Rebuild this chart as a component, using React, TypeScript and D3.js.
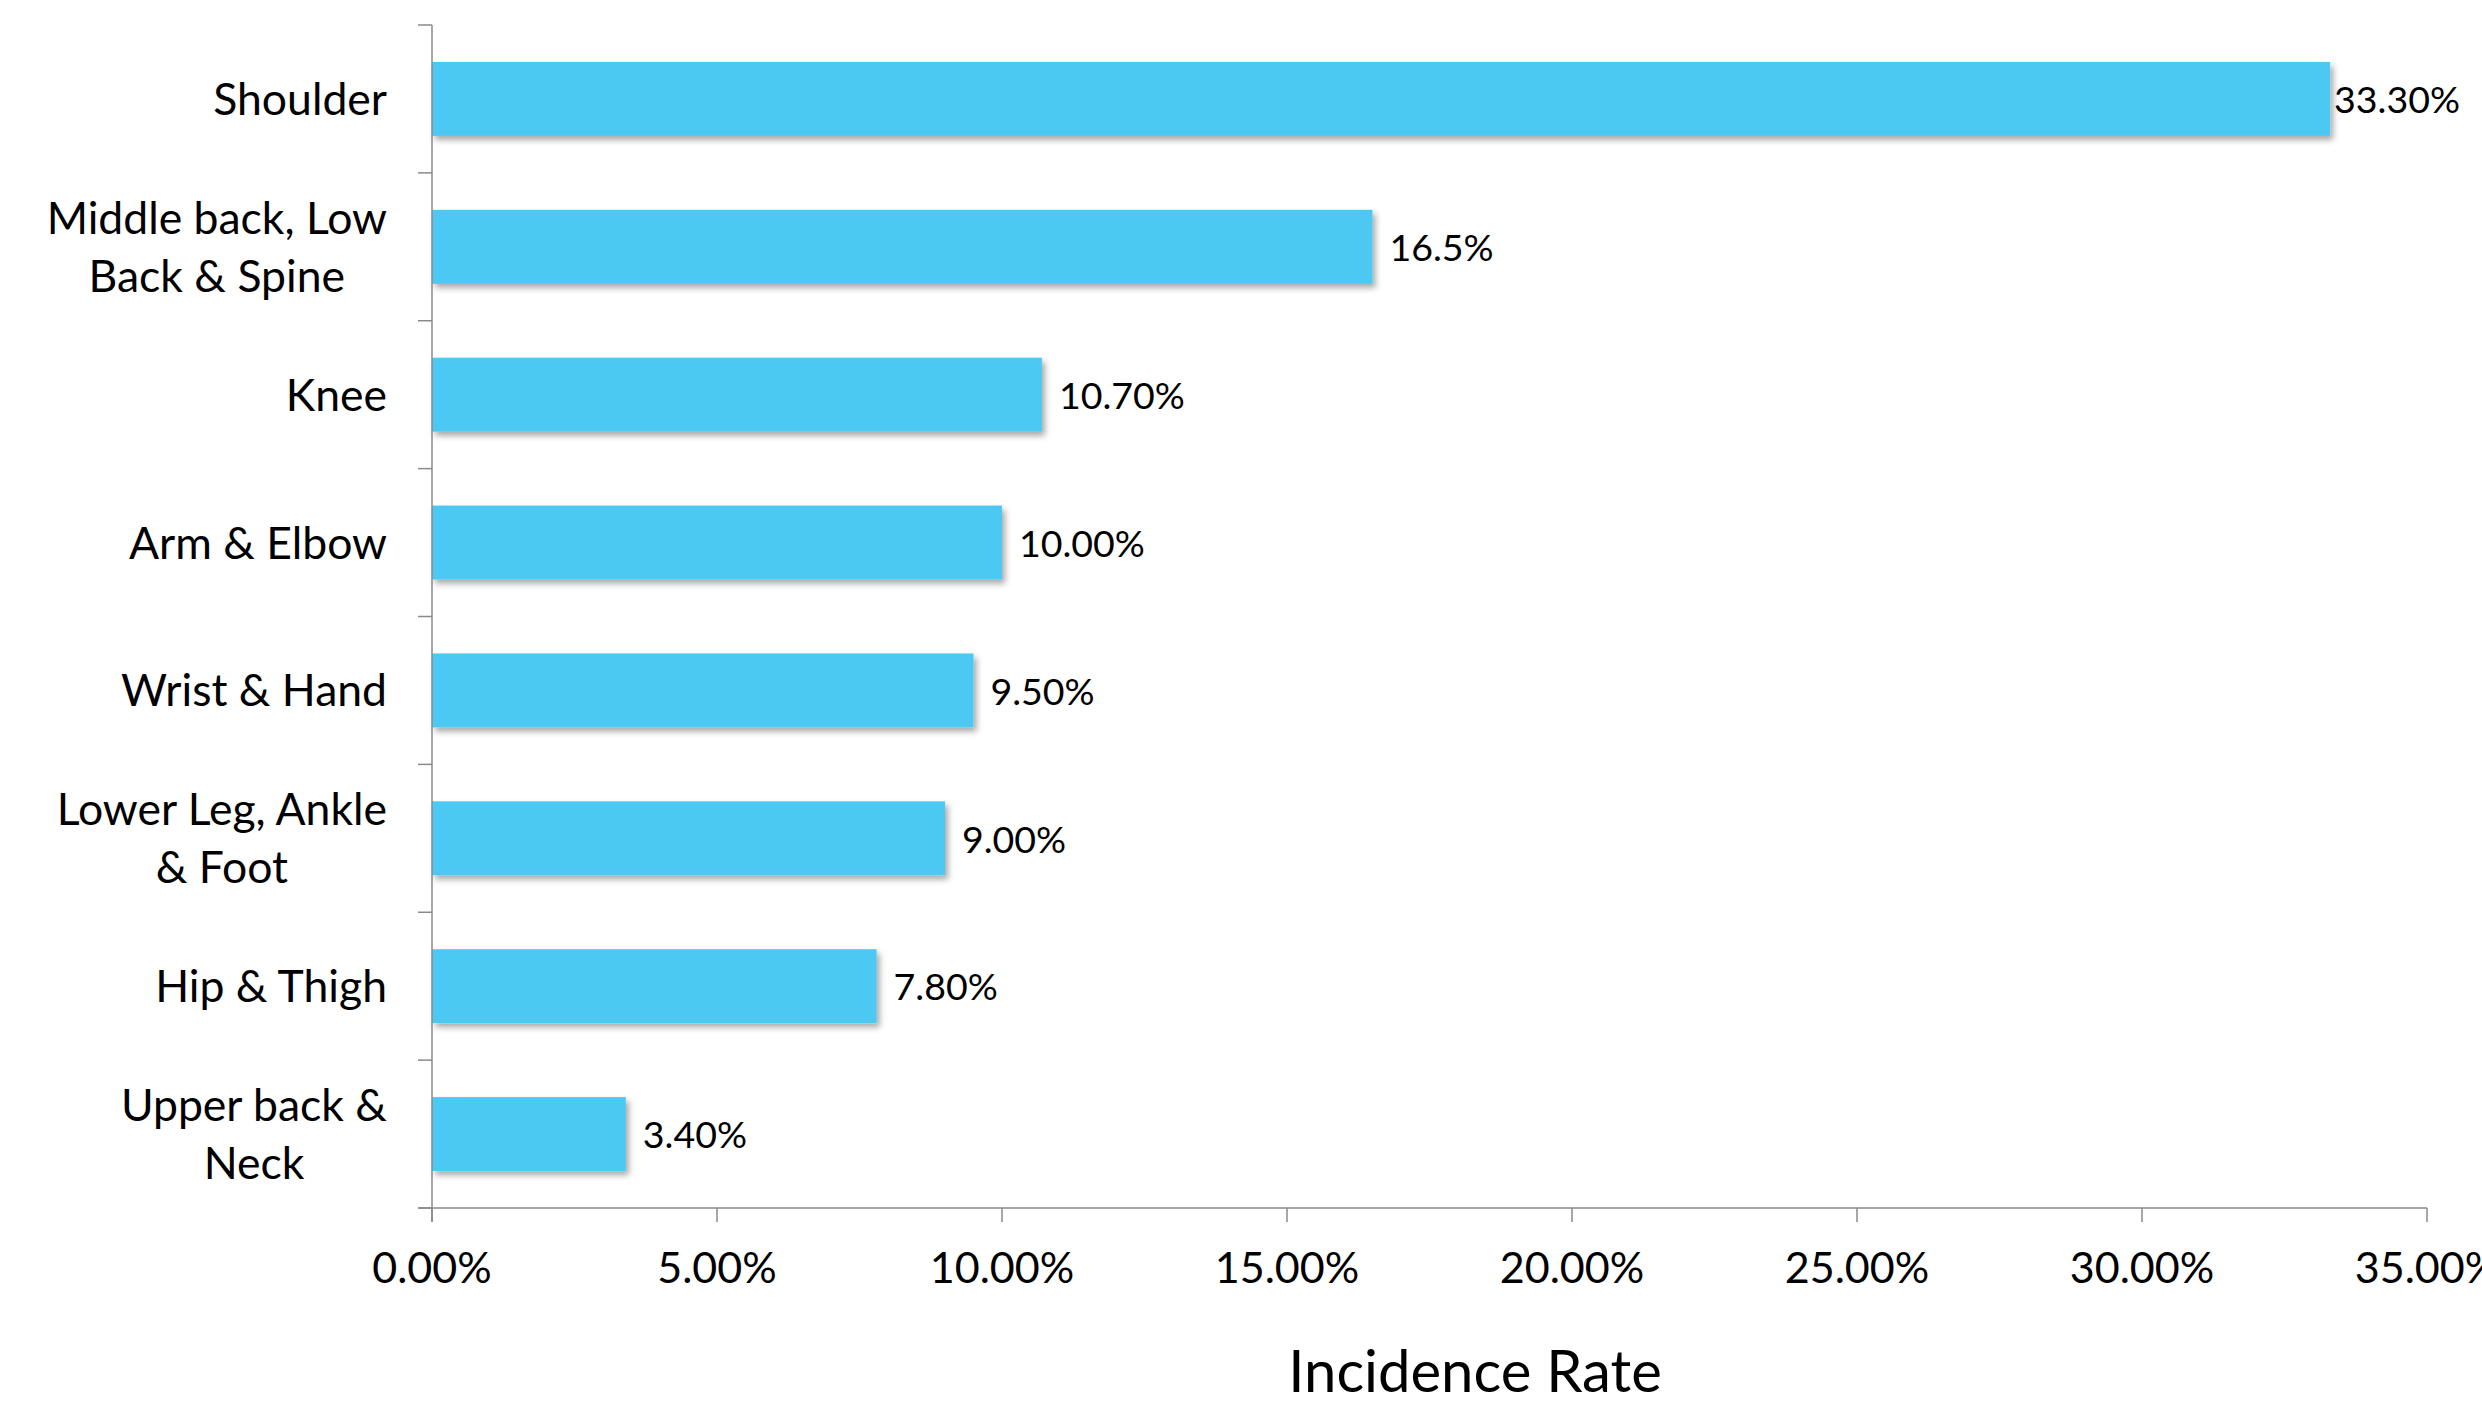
import React, { useEffect, useRef } from "react";
import * as d3 from "d3";

const categories: string[][] = [
  ["Shoulder"],
  ["Middle back, Low", "Back & Spine"],
  ["Knee"],
  ["Arm & Elbow"],
  ["Wrist & Hand"],
  ["Lower Leg, Ankle", "& Foot"],
  ["Hip & Thigh"],
  ["Upper back &", "Neck"],
];
const values: number[] = [33.3, 16.5, 10.7, 10.0, 9.5, 9.0, 7.8, 3.4];
const valueLabels: string[] = ["33.30%", "16.5%", "10.70%", "10.00%", "9.50%", "9.00%", "7.80%", "3.40%"];
const xTicks: number[] = [0, 5, 10, 15, 20, 25, 30, 35];
const xTickLabels: string[] = ["0.00%", "5.00%", "10.00%", "15.00%", "20.00%", "25.00%", "30.00%", "35.00%"];
const xTitle = "Incidence Rate";

const W = 2482;
const H = 1405;
const FONT = "Lato, 'Open Sans', sans-serif";

export default function App() {
  const ref = useRef<SVGSVGElement>(null);
  useEffect(() => {
    document.body.style.margin = "0";
    const svg = d3.select(ref.current);
    svg.selectAll("*").remove();

    const left = 432, right = 2427, top = 25, bottom = 1208;
    const x = d3.scaleLinear().domain([0, 35]).range([left, right]);
    const y = d3.scaleBand<number>().domain(d3.range(categories.length)).range([top, bottom]).paddingInner(0.5).paddingOuter(0.25);
    const band = d3.scaleBand<number>().domain(d3.range(categories.length)).range([top, bottom]);

    const defs = svg.append("defs");
    const f = defs.append("filter").attr("id", "sh").attr("x", "-5%").attr("y", "-20%").attr("width", "120%").attr("height", "160%");
    f.append("feDropShadow").attr("dx", 3).attr("dy", 4).attr("stdDeviation", 3).attr("flood-color", "#000").attr("flood-opacity", 0.35);

    // bars
    svg.append("g").selectAll("rect").data(values).join("rect")
      .attr("x", x(0))
      .attr("y", (_, i) => y(i)!)
      .attr("width", (d) => x(d) - x(0))
      .attr("height", y.bandwidth())
      .attr("fill", "#4BC9F2")
      .attr("filter", "url(#sh)");

    const axisColor = "#8a8a8a";
    const g = svg.append("g").attr("stroke", axisColor).attr("stroke-width", 1.5);
    g.append("line").attr("x1", left).attr("x2", left).attr("y1", top).attr("y2", bottom + 14);
    const bounds = d3.range(categories.length + 1).map((i) => (i < categories.length ? band(i)! : bottom));
    g.selectAll("line.yt").data(bounds).join("line").attr("class", "yt")
      .attr("x1", left - 14).attr("x2", left).attr("y1", (d) => d).attr("y2", (d) => d);
    g.append("line").attr("x1", left - 14).attr("x2", right).attr("y1", bottom).attr("y2", bottom);
    g.selectAll("line.xt").data(xTicks).join("line").attr("class", "xt")
      .attr("x1", (d) => x(d)).attr("x2", (d) => x(d)).attr("y1", bottom).attr("y2", bottom + 14);

    // x tick labels
    svg.append("g").selectAll("text").data(xTicks).join("text")
      .attr("x", (d) => x(d)).attr("y", 1283)
      .attr("text-anchor", "middle").attr("font-family", FONT).attr("font-size", 43).attr("fill", "#000")
      .text((_, i) => xTickLabels[i]);

    // title
    svg.append("text").attr("x", 1475).attr("y", 1392)
      .attr("text-anchor", "middle").attr("font-family", FONT).attr("font-size", 58).attr("fill", "#000")
      .text(xTitle);

    // category labels
    const labelRight = 387;
    const lineH = 58;
    categories.forEach((lines, i) => {
      const cy = band(i)! + band.bandwidth() / 2;
      const t = svg.append("g");
      const texts = lines.map((ln, k) =>
        t.append("text")
          .attr("y", cy + (k - (lines.length - 1) / 2) * lineH)
          .attr("dy", "0.36em")
          .attr("text-anchor", "middle")
          .attr("font-family", FONT).attr("font-size", 44.5).attr("fill", "#000")
          .text(ln)
      );
      const maxW = d3.max(texts, (tx) => (tx.node() as SVGTextElement).getComputedTextLength()) || 0;
      texts.forEach((tx) => tx.attr("x", labelRight - maxW / 2));
    });

    // value labels
    svg.append("g").selectAll("text").data(values).join("text")
      .attr("x", (d) => (x(d) > W - 250 ? x(d) + 4 : x(d) + 17))
      .attr("y", (_, i) => y(i)! + y.bandwidth() / 2)
      .attr("dy", "0.38em")
      .attr("font-family", FONT).attr("font-size", 37.5).attr("fill", "#000")
      .text((_, i) => valueLabels[i]);
  }, []);
  return <svg ref={ref} width={W} height={H} style={{ display: "block", background: "#fff" }} />;
}
